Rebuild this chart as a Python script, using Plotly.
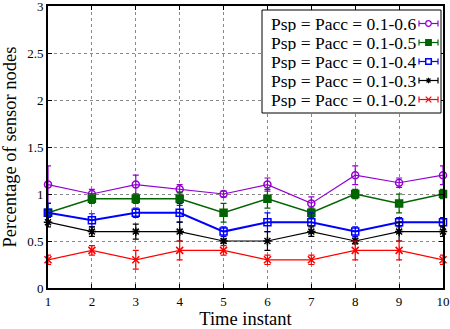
import plotly.graph_objects as go

time_instant = [1, 2, 3, 4, 5, 6, 7, 8, 9, 10]

labels = ["Psp = Pacc = 0.1-0.6", "Psp = Pacc = 0.1-0.5", "Psp = Pacc = 0.1-0.4",
          "Psp = Pacc = 0.1-0.3", "Psp = Pacc = 0.1-0.2"]

p06 = [1.1, 1.0, 1.1, 1.05, 1.0, 1.1, 0.9, 1.2, 1.12, 1.2]
p05 = [0.8, 0.95, 0.95, 0.95, 0.8, 0.95, 0.8, 1.0, 0.9, 1.0]
p04 = [0.8, 0.72, 0.8, 0.8, 0.6, 0.7, 0.7, 0.6, 0.7, 0.7]
p03 = [0.7, 0.6, 0.6, 0.6, 0.5, 0.5, 0.6, 0.5, 0.6, 0.6]
p02 = [0.3, 0.4, 0.3, 0.4, 0.4, 0.3, 0.3, 0.4, 0.4, 0.3]

e06 = [0.2, 0.05, 0.1, 0.05, 0.03, 0.07, 0.07, 0.1, 0.05, 0.1]
e05 = [0.1, 0.05, 0.05, 0.07, 0.1, 0.1, 0.05, 0.05, 0.1, 0.05]
e04 = [0.1, 0.07, 0.05, 0.1, 0.05, 0.1, 0.1, 0.05, 0.05, 0.05]
e03 = [0.05, 0.05, 0.08, 0.1, 0.02, 0.1, 0.05, 0.03, 0.1, 0.05]
e02 = [0.05, 0.05, 0.1, 0.1, 0.05, 0.05, 0.05, 0.1, 0.1, 0.05]

series = [
    (p06, e06, "#9400D3", "circle-open", 1.2),
    (p05, e05, "#006400", "square", 1.5),
    (p04, e04, "#0000FF", "square-open", 2),
    (p03, e03, "#000000", "asterisk-open", 1.2),
    (p02, e02, "#FF0000", "x-thin-open", 1.2),
]

FONT = "Liberation Serif"
W, H = 450, 329
ML, MR, MT, MB = 48, 7, 6, 41
PW, PH = W - ML - MR, H - MT - MB


def px(xp):
    return (xp - ML) / PW


def py(yp):
    return (H - MB - yp) / PH


fig = go.Figure()
for (vals, errs, col, sym, lw), name in zip(series, labels):
    fig.add_trace(go.Scatter(
        x=time_instant, y=vals, name=name, mode="lines+markers",
        line=dict(color=col, width=lw),
        marker=dict(symbol=sym, size=7, color=col, line=dict(color=col, width=1.5)),
        error_y=dict(type="data", array=errs, visible=True, color=col, thickness=1.2, width=3),
        cliponaxis=False, showlegend=False,
    ))

# custom legend (text left, glyph right, as in the reference)
shapes = [dict(type="rect", xref="paper", yref="paper",
               x0=px(262), x1=px(441), y0=py(113), y1=py(10),
               line=dict(color="black", width=1), fillcolor="white", layer="above")]
annotations = []
row_y = [23.5, 42.5, 61.5, 80.5, 99.5]
gx0, gx1, gxc = 419, 438, 428.5
for (vals, errs, col, sym, lw), name, ry in zip(series, labels, row_y):
    annotations.append(dict(text=name, xref="paper", yref="paper",
                            x=px(417), y=py(ry), xanchor="right", yanchor="middle",
                            height=17, borderpad=0,
                            showarrow=False, font=dict(family=FONT, size=17.5, color="black")))
    L = dict(color=col, width=1.2)
    shapes.append(dict(type="line", xref="paper", yref="paper", x0=px(gx0), x1=px(gx1),
                       y0=py(ry), y1=py(ry), line=L, layer="above"))
    for ex in (gx0, gx1):
        shapes.append(dict(type="line", xref="paper", yref="paper", x0=px(ex), x1=px(ex),
                           y0=py(ry - 3), y1=py(ry + 3), line=L, layer="above"))
    r = 2.8
    if sym == "circle-open":
        shapes.append(dict(type="circle", xref="paper", yref="paper", x0=px(gxc - r), x1=px(gxc + r),
                           y0=py(ry + r), y1=py(ry - r), line=L, fillcolor="white", layer="above"))
    elif sym == "square":
        shapes.append(dict(type="rect", xref="paper", yref="paper", x0=px(gxc - r), x1=px(gxc + r),
                           y0=py(ry + r), y1=py(ry - r), line=L, fillcolor=col, layer="above"))
    elif sym == "square-open":
        shapes.append(dict(type="rect", xref="paper", yref="paper", x0=px(gxc - r), x1=px(gxc + r),
                           y0=py(ry + r), y1=py(ry - r), line=dict(color=col, width=1.5),
                           fillcolor="white", layer="above"))
    elif sym == "asterisk-open":
        for dx, dy in ((r, 0), (0, r), (r * 0.7, r * 0.7), (r * 0.7, -r * 0.7)):
            shapes.append(dict(type="line", xref="paper", yref="paper", x0=px(gxc - dx), x1=px(gxc + dx),
                               y0=py(ry - dy), y1=py(ry + dy), line=L, layer="above"))
    else:
        for dy in (r, -r):
            shapes.append(dict(type="line", xref="paper", yref="paper", x0=px(gxc - r), x1=px(gxc + r),
                               y0=py(ry - dy), y1=py(ry + dy), line=L, layer="above"))

fig.update_layout(
    width=W, height=H,
    margin=dict(l=ML, r=MR, t=MT, b=MB, autoexpand=False),
    paper_bgcolor="white", plot_bgcolor="white",
    font=dict(family=FONT, color="black", size=13),
    shapes=shapes, annotations=annotations,
    xaxis=dict(
        range=[1, 10], tickmode="array", tickvals=time_instant,
        ticktext=[str(v) for v in time_instant],
        showgrid=True, gridcolor="#888888", griddash="dot", gridwidth=1,
        showline=True, linecolor="black", linewidth=2, mirror="ticks",
        ticks="inside", ticklen=4, tickcolor="black",
        zeroline=False, ticklabeloverflow="allow", automargin=False,
        title=dict(text="Time instant", font=dict(size=18.5, family=FONT), standoff=1),
        tickfont=dict(size=13, family=FONT),
    ),
    yaxis=dict(
        range=[0, 3], tickvals=[0, 0.5, 1, 1.5, 2, 2.5, 3],
        ticktext=["0", "0.5", "1", "1.5", "2", "2.5", "3"],
        showgrid=True, gridcolor="#888888", griddash="dot", gridwidth=1,
        showline=True, linecolor="black", linewidth=2, mirror="ticks",
        ticks="inside", ticklen=4, tickcolor="black",
        zeroline=False, ticklabeloverflow="allow", automargin=False,
        title=dict(text="Percentage of sensor nodes", font=dict(size=18.5, family=FONT), standoff=6),
        tickfont=dict(size=13, family=FONT),
    ),
)

fig.write_html("out.html")
